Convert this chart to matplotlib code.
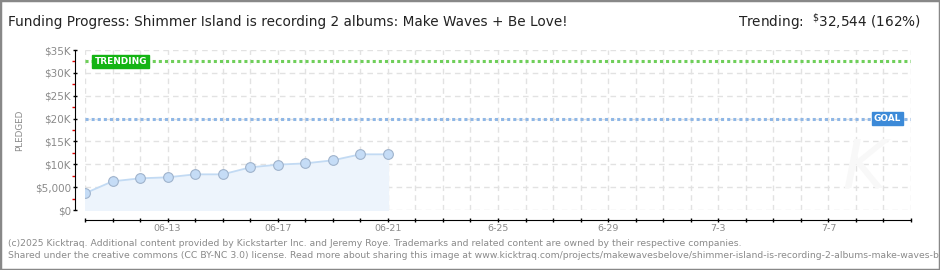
import numpy as np
import matplotlib
matplotlib.use("Agg")
import matplotlib.pyplot as plt
from matplotlib.patches import Rectangle
from matplotlib.ticker import FixedLocator, MultipleLocator

# data, days counted from 06-10
days = [0, 1, 2, 3, 4, 5, 6, 7, 8, 9, 10, 11]
pledged = [3650, 6270, 6930, 7150, 7800, 7800, 9330, 9920, 10200, 10870, 12180, 12180]
goal = 20000
trending = 32544
trend_pct = 162
tick_days = [3, 7, 11, 15, 19, 23, 27]
tick_labels = ["06-13", "06-17", "06-21", "6-25", "6-29", "7-3", "7-7"]
ytick_vals = [0, 5000, 10000, 15000, 20000, 25000, 30000, 35000]
ytick_labels = ["$0", "$5,000", "$10K", "$15K", "$20K", "$25K", "$30K", "$35K"]
n_days = 30

title = "Funding Progress: Shimmer Island is recording 2 albums: Make Waves + Be Love!"
footer1 = ("(c)2025 Kicktraq. Additional content provided by Kickstarter Inc. and Jeremy Roye. "
           "Trademarks and related content are owned by their respective companies.")
footer2 = ("Shared under the creative commons (CC BY-NC 3.0) license. Read more about sharing this image at "
           "www.kicktraq.com/projects/makewavesbelove/shimmer-island-is-recording-2-albums-make-waves-be-love/")

W, H = 940, 270
fig = plt.figure(figsize=(W / 100, H / 100), dpi=100)
fig.patch.set_facecolor("white")

ax = fig.add_axes([85 / W, (H - 210) / H, (911 - 85) / W, 160 / H])
ax.set_xlim(0, n_days)
ax.set_ylim(0, 35000)

# grid
ax.set_xticks(range(0, n_days + 1))
ax.xaxis.grid(True, color="#e2e2e2", linestyle=(0, (4, 3)), linewidth=1)
ax.yaxis.grid(True, color="#e2e2e2", linestyle=(0, (4, 3)), linewidth=1)
ax.set_axisbelow(True)

# pledged series
ax.fill_between(days, pledged, 0, color="#edf4fc", zorder=2)
ax.plot(days, pledged, color="#c2daf3", linewidth=1.3, zorder=3)
ax.plot(days, pledged, linestyle="none", marker="o", markersize=7,
        markerfacecolor="#c5dcf6", markeredgecolor="#9fb3cc", markeredgewidth=0.8, zorder=4)

# trending / goal lines
ax.axhline(trending, color="#6fcf5a", linewidth=2.2, linestyle=(0, (1, 1)), zorder=3)
ax.axhline(goal, color="#8fb7e6", linewidth=2.2, linestyle=(0, (1, 1)), zorder=3)

ax.text(0.35, trending, "TRENDING", color="white", fontsize=6.4, fontweight="bold",
        va="center", ha="left", zorder=6,
        bbox=dict(boxstyle="square,pad=0.25", facecolor="#14b414", edgecolor="#14b414"))
ax.text(28.65, goal, "GOAL", color="white", fontsize=6.4, fontweight="bold",
        va="center", ha="left", zorder=6,
        bbox=dict(boxstyle="square,pad=0.25", facecolor="#3c8ad8", edgecolor="#3c8ad8"))

# watermark
ax.text(28.3, 9000, "K", fontsize=48, style="italic", color="#f8f8f8", ha="center",
        va="center", zorder=1)

# spines
for s in ["top", "right"]:
    ax.spines[s].set_visible(False)
ax.spines["left"].set_position(("outward", 7))
ax.spines["bottom"].set_position(("outward", 7))
ax.spines["left"].set_color("black")
ax.spines["bottom"].set_color("black")

# y ticks
ax.yaxis.set_major_locator(FixedLocator(ytick_vals))
ax.set_yticklabels(ytick_labels)
ax.yaxis.set_minor_locator(MultipleLocator(2500))
ax.tick_params(axis="y", which="major", direction="inout", length=3.5, width=1,
               color="black", labelsize=7.5, labelcolor="#8a8a8a", pad=1.5)
ax.tick_params(axis="y", which="minor", direction="out", length=2.5, width=1, color="#e00000")

# x ticks
labels = [""] * (n_days + 1)
for d, lab in zip(tick_days, tick_labels):
    labels[d] = lab
ax.set_xticklabels(labels)
ax.tick_params(axis="x", which="major", direction="inout", length=3.5, width=1,
               color="black", labelsize=6.8, labelcolor="#8a8a8a", pad=1)

fig.text(20 / W, 1 - 130 / H, "PLEDGED", rotation=90, fontsize=6.3, color="#8a8a8a",
         ha="center", va="center")

# header
fig.text(8 / W, 1 - 22 / H, title, fontsize=9.8, color="#222222",
         family=["Liberation Sans Narrow", "DejaVu Sans"], ha="left", va="center")
fig.text(921 / W, 1 - 22 / H, "Trending:  $^{\\$}$32,544 (%d%%)" % trend_pct,
         fontsize=9.8, color="#222222",
         family=["Liberation Sans Narrow", "DejaVu Sans"], ha="right", va="center")

# footer
fig.text(8 / W, 1 - 243 / H, footer1, fontsize=6.7, color="#8a8a8a", ha="left", va="center")
fig.text(8 / W, 1 - 255 / H, footer2, fontsize=6.7, color="#8a8a8a", ha="left", va="center")

# border
fig.patches.append(Rectangle((0, 0), 1, 1, transform=fig.transFigure, fill=False,
                             edgecolor="#888888", linewidth=2.5))

fig.savefig("out.png", dpi=100)
